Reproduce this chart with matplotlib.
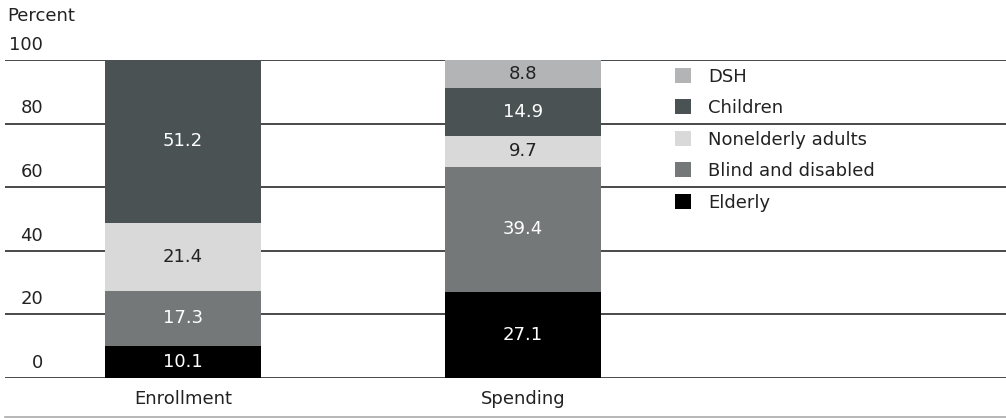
import matplotlib
matplotlib.use("Agg")
import matplotlib.pyplot as plt
from matplotlib.patches import Patch
from matplotlib.lines import Line2D
import numpy as np

plt.rcParams['font.family'] = ['DejaVu Sans']

categories = ["Enrollment", "Spending"]
series = ["Elderly", "Blind and disabled", "Nonelderly adults", "Children", "DSH"]
elderly = [10.1, 27.1]
blind = [17.3, 39.4]
nonelderly = [21.4, 9.7]
children = [51.2, 14.9]
dsh = [0.0, 8.8]
yticks = [0, 20, 40, 60, 80, 100]

colors = ["#000000", "#747878", "#d9d9d9", "#4a5253", "#b3b4b5"]
text_colors = ["white", "white", "#222222", "white", "#222222"]

FS = 13
EM = FS * 100 / 72
W, H = 1006, 418
fig = plt.figure(figsize=(W / 100, H / 100), dpi=100)
ax = fig.add_axes([5 / W, (H - 378) / H, 1 - 5 / W, (378 - 60) / H])

x = np.arange(len(categories))
width = 0.46
values = [elderly, blind, nonelderly, children, dsh]
bottom = np.zeros(len(categories))
for vals, col, tc in zip(values, colors, text_colors):
    vals = np.array(vals)
    ax.bar(x, vals, width, bottom=bottom, color=col, zorder=3, linewidth=0)
    for xi, v, b in zip(x, vals, bottom):
        if v > 0:
            ax.text(xi, b + v / 2, f"{v:.1f}", ha="center", va="center",
                    color=tc, fontsize=FS, zorder=4)
    bottom += vals

ax.set_xlim(-0.5235, 2.4206)
ax.set_ylim(0, 100)
for t in yticks:
    ax.axhline(t, color="#3a3a3a", linewidth=1.3, zorder=2)
ax.set_xticks([])
ax.set_yticks([])
for s in ax.spines.values():
    s.set_visible(False)

# y tick labels, above gridlines
for t in yticks:
    ax.annotate(str(t), xy=(0, t), xycoords=("figure fraction", "data"),
                xytext=(43 * 0.72, 4.5), textcoords="offset points",
                ha="right", va="bottom", fontsize=FS, color="#222222")

fig.text(7 / W, 1 - 21 / H, "Percent", ha="left", va="baseline",
         fontsize=FS, color="#222222")

# x labels
for xi, c in zip(x, categories):
    ax.annotate(c, xy=(xi, 0), xycoords="data", xytext=(0, -21 * 0.72),
                textcoords="offset points", ha="center", va="center",
                fontsize=FS, color="#222222")

# bottom rule
fig.add_artist(Line2D([5 / W, 1], [1 - 416.5 / H, 1 - 416.5 / H],
                      color="#aaaaaa", linewidth=1.2, transform=fig.transFigure))

handles = [Patch(facecolor=c, edgecolor="none") for c in colors[::-1]]
leg = ax.legend(handles, series[::-1], loc="upper left",
                bbox_to_anchor=(675 / W, 1 - 67.5 / H),
                bbox_transform=fig.transFigure, frameon=False,
                fontsize=FS, handlelength=16 / EM, handleheight=16 / EM,
                handletextpad=17 / EM, labelspacing=0.75, borderpad=0,
                borderaxespad=0)
for t in leg.get_texts():
    t.set_color("#222222")

fig.savefig("out.png", dpi=100)
